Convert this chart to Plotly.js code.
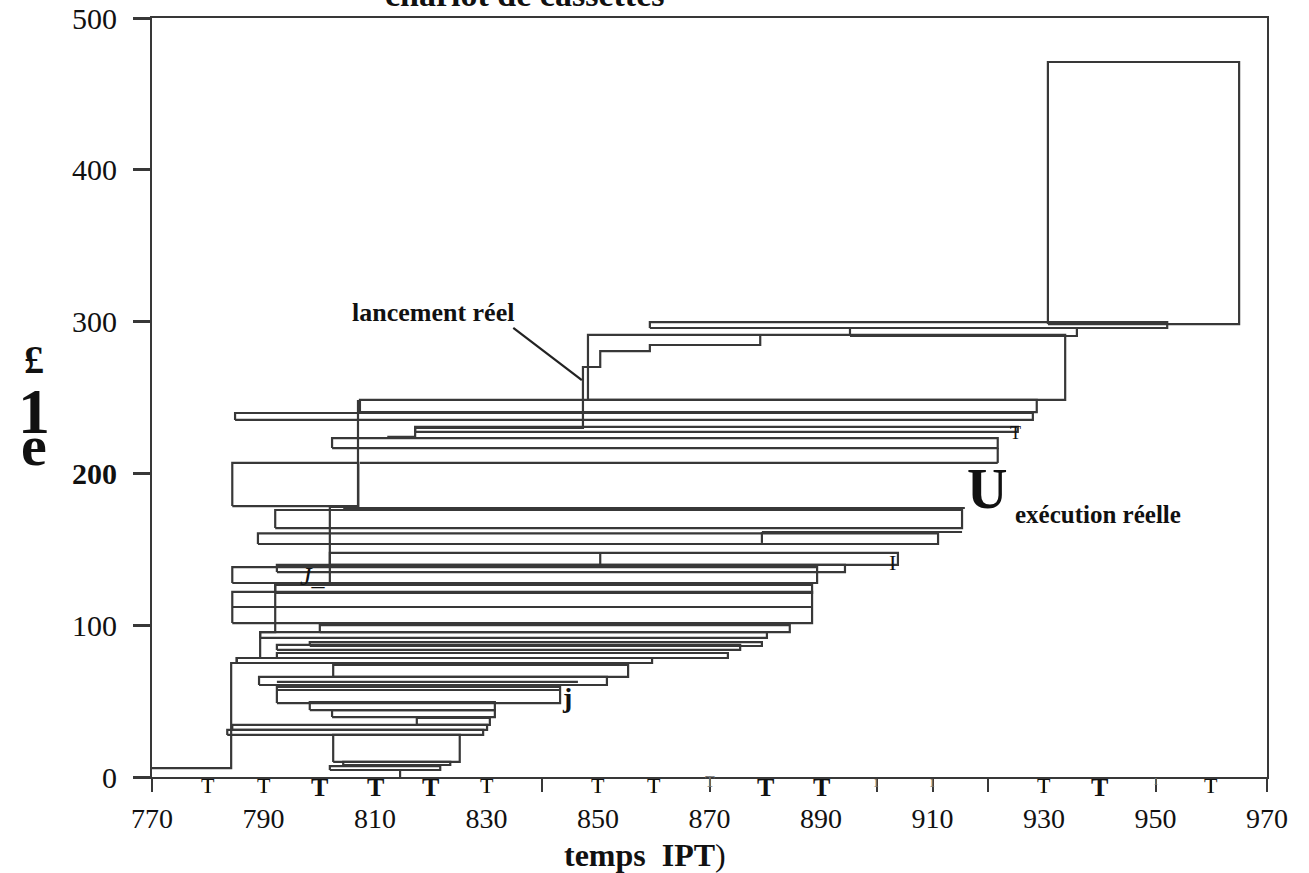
<!DOCTYPE html>
<html><head><meta charset="utf-8">
<script src="https://cdn.plot.ly/plotly-3.0.1.min.js"></script>
<style>html,body{margin:0;padding:0;background:#fff}#chart{width:1309px;height:873px}</style>
</head><body><div id="chart"></div>
<script>
// ---- data (time in PT, cassette number) ----
const boxStart = [930.7, 859.3, 895.2, 848.2, 807.3, 784.9, 817.2, 802.3, 784.4, 792.1, 789.0, 801.9, 792.4, 784.4, 792.1, 784.4, 800.1, 789.4, 798.3, 792.4, 792.4, 785.2, 802.5, 789.2, 792.4, 798.3, 802.3, 817.5, 784.4, 783.5, 802.5, 804.3, 801.9];
const boxEnd   = [965.0, 952.1, 935.9, 933.8, 928.7, 928.0, 925.3, 921.7, 807.0, 915.3, 911.0, 903.8, 894.3, 889.3, 888.4, 888.4, 884.4, 880.3, 879.4, 875.5, 873.3, 859.7, 855.4, 851.6, 843.2, 831.5, 831.5, 830.6, 830.1, 829.4, 825.2, 823.5, 821.7];
const boxLow   = [298.4, 295.8, 290.5, 248.4, 240.4, 235.2, 227.3, 216.7, 178.5, 164.0, 153.5, 139.7, 135.0, 127.8, 121.2, 101.4, 95.5, 91.6, 86.3, 83.7, 78.4, 75.1, 65.9, 60.6, 48.7, 44.1, 39.5, 34.3, 31.0, 27.7, 9.9, 7.9, 4.6];
const boxHigh  = [471.0, 299.7, 295.8, 291.2, 248.4, 239.8, 230.6, 223.3, 206.9, 175.9, 160.5, 147.6, 139.7, 138.3, 126.5, 121.9, 100.1, 95.5, 88.9, 87.0, 81.7, 78.4, 73.8, 65.9, 59.3, 49.4, 44.1, 38.9, 34.3, 31.0, 27.7, 9.9, 7.2];

const lineN  = [206.9, 177.2, 161.4, 112.0, 62.6, 57.3];
const lineT0 = [807.3, 804.3, 879.4, 784.4, 792.4, 792.4];
const lineT1 = [921.7, 915.8, 915.3, 888.4, 846.4, 843.2];

const stepT  = [921.7, 879.4, 850.4, 814.5];
const stepN0 = [206.9, 154.2, 139.7, 0];
const stepN1 = [216.7, 161.4, 147.6, 4.6];

const launchT1 = [770, 784.2, 784.2, 785.2, 785.2, 789.4, 789.4, 792.1, 792.1, 801.9, 801.9, 806.95, 806.95];
const launchN1 = [5.9, 5.9, 75.1, 75.1, 78.4, 78.4, 95.5, 95.5, 126.5, 126.5, 177.9, 177.9, 248.4];
const launchT2 = [812.2, 817.2, 817.2, 847.3, 847.3, 850.4, 850.4, 859.3, 859.3, 879.1, 879.1];
const launchN2 = [224.0, 224.0, 229.9, 229.9, 270.1, 270.1, 280.6, 280.6, 284.6, 284.6, 290.5];

const leaderT = [834.8, 847.1];
const leaderN = [295.8, 261.5];

const yTickVals = [0, 100, 200, 300, 400, 500];
const yTickText = ['0', '100', '<b>200</b>', '300', '400', '500'];

const glyphT    = [780, 790, 800, 810, 820, 830, 850, 860, 870, 880, 890, 900, 910, 930, 940, 950, 960];
const glyphText = ['T','T','T','T','T','T','T','T','T','T','T','ı','ı','T','T','ı','T'];
const glyphBold = [0,0,1,1,1,0,0,0,0,1,1,0,0,0,1,0,0];
const glyphSize = [22,22,26,26,26,22,22,22,16,26,26,16,16,22,26,14,22];

// ---- build traces ----
const LC = '#383838';
const LW = 2.2;
const bx = [], by = [];
for (let i = 0; i < boxStart.length; i++) {
  bx.push(boxStart[i], boxEnd[i], boxEnd[i], boxStart[i], boxStart[i], null);
  by.push(boxLow[i], boxLow[i], boxHigh[i], boxHigh[i], boxLow[i], null);
}
for (let i = 0; i < lineN.length; i++) { bx.push(lineT0[i], lineT1[i], null); by.push(lineN[i], lineN[i], null); }
for (let i = 0; i < stepT.length; i++) { bx.push(stepT[i], stepT[i], null); by.push(stepN0[i], stepN1[i], null); }

const traces = [
  {x: bx, y: by, mode: 'lines', line: {color: LC, width: LW}, hoverinfo: 'skip', connectgaps: false},
  {x: launchT1, y: launchN1, mode: 'lines', line: {color: LC, width: LW}, hoverinfo: 'skip'},
  {x: launchT2, y: launchN2, mode: 'lines', line: {color: LC, width: LW}, hoverinfo: 'skip'},
  {x: leaderT, y: leaderN, mode: 'lines', line: {color: '#222', width: 2.2}, hoverinfo: 'skip'}
];

const SERIF = 'Liberation Serif';
const ann = [];
glyphT.forEach((t, i) => {
  const txt = glyphBold[i] ? '<b>' + glyphText[i] + '</b>' : glyphText[i];
  ann.push({x: t, xref: 'x', xanchor: 'center', y: 0, yref: 'paper', yanchor: 'top', yshift: 6, showarrow: false,
    text: txt, font: {family: SERIF, size: glyphSize[i], color: glyphSize[i] < 20 ? '#777' : '#111'}});
});
const A = (o) => Object.assign({showarrow: false, xanchor: 'center', yanchor: 'middle'}, o);
ann.push(
  A({x: 0.3345, xref: 'paper', y: 1.0045, yref: 'paper', yanchor: 'bottom',
     text: '<b>chariot de cassettes</b>', font: {family: SERIF, size: 34, color: '#111'}}),
  A({x: 820.4, y: 305.7, text: '<b>lancement réel</b>', font: {family: SERIF, size: 26, color: '#111'}}),
  A({x: 919.8, y: 189.7, text: '<b>U</b>', font: {family: SERIF, size: 56, color: '#111'}}),
  A({x: 939.7, y: 172.6, text: '<b>exécution réelle</b>', font: {family: SERIF, size: 25, color: '#111'}}),
  A({x: 924.8, y: 226.6, text: 'T', font: {family: SERIF, size: 18, color: '#111'}}),
  A({x: 902.9, y: 141.0, text: 'I', font: {family: SERIF, size: 22, color: '#111'}}),
  A({x: 798.9, y: 131.8, text: '<i>J</i>_', font: {family: SERIF, size: 26, color: '#111'}}),
  A({x: 844.4, y: 52.7, text: '<b>j</b>', font: {family: SERIF, size: 28, color: '#111'}}),
  A({x: 858.4, xref: 'x', y: -0.1028, yref: 'paper', text: '<b>temps  IPT</b>)', font: {family: SERIF, size: 32, color: '#111'}}),
  A({x: -0.1058, xref: 'paper', y: 0.55, yref: 'paper', text: '<b>£</b>', font: {family: SERIF, size: 40, color: '#111'}}),
  A({x: -0.1058, xref: 'paper', y: 0.482, yref: 'paper', text: '<b>1</b>', font: {family: SERIF, size: 64, color: '#111'}}),
  A({x: -0.1058, xref: 'paper', y: 0.4374, yref: 'paper', text: '<b>e</b>', font: {family: SERIF, size: 58, color: '#111'}})
);

const layout = {
  width: 1309, height: 873,
  margin: {l: 152, r: 42, t: 18, b: 96},
  paper_bgcolor: '#fff', plot_bgcolor: '#fff',
  showlegend: false,
  xaxis: {
    range: [770, 970], tickmode: 'linear', tick0: 770, dtick: 20,
    ticks: 'outside', ticklen: 13, tickwidth: 2, tickcolor: LC,
    minor: {ticks: 'outside', dtick: 10, tick0: 770, ticklen: 13, tickwidth: 2, tickcolor: LC, showgrid: false},
    showline: true, mirror: true, linecolor: LC, linewidth: 2,
    showgrid: false, zeroline: false, ticklabelstandoff: 2,
    tickfont: {family: SERIF, size: 28, color: '#111'}
  },
  yaxis: {
    range: [0, 500], tickmode: 'array', tickvals: yTickVals, ticktext: yTickText,
    ticks: 'outside', ticklen: 17, tickwidth: 3, tickcolor: LC,
    showline: true, mirror: true, linecolor: LC, linewidth: 2,
    showgrid: false, zeroline: false, ticklabelstandoff: 10,
    tickfont: {family: SERIF, size: 30, color: '#111'}
  },
  annotations: ann
};

Plotly.newPlot('chart', traces, layout, {staticPlot: true, displayModeBar: false});
</script></body></html>
